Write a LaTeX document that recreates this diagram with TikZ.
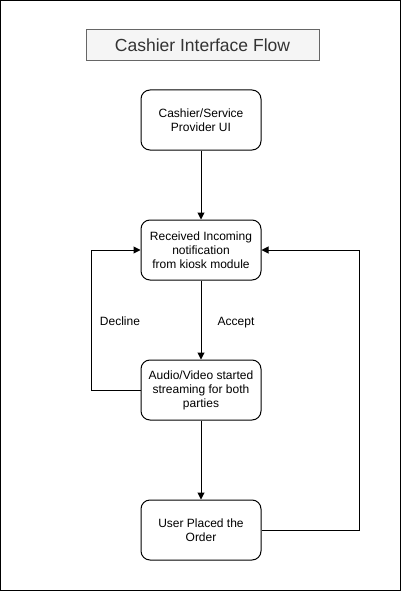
\documentclass[tikz,border=0pt]{standalone}
\usepackage{fontspec}
\setmainfont{Liberation Sans}
\usetikzlibrary{arrows.meta}
\definecolor{tfill}{HTML}{F5F5F5}
\definecolor{tdraw}{HTML}{666666}
\definecolor{ttext}{HTML}{333333}
\begin{document}
\begin{tikzpicture}[x=1pt,y=-1pt,
  box/.style={draw=black, line width=1pt, rounded corners=9pt, minimum width=120pt, minimum height=60pt, align=center, font=\fontsize{12}{14}\selectfont, inner sep=0pt},
  conn/.style={draw=black, line width=1pt, -{Triangle[length=7pt,width=7pt]}},
  lbl/.style={font=\fontsize{12}{14}\selectfont, anchor=base}]
\useasboundingbox (0,0) rectangle (401,591);
\draw[line width=1pt] (0.5,0.5) rectangle (400.5,590.5);
\node[draw=tdraw, fill=tfill, line width=1pt, minimum width=233pt, minimum height=31pt, inner sep=0pt, text=ttext, font=\fontsize{17.5}{19}\selectfont] (title) at (202.5,45.5) {Cashier Interface Flow};
\node[box] (ui) at (201,120) {Cashier/Service\\Provider UI};
\node[box] (recv) at (201,250) {Received Incoming\\notification\\from kiosk module};
\node[box] (av) at (201,390) {Audio/Video started\\streaming for both\\parties};
\node[box] (order) at (201,530) {User Placed the\\Order};
\coordinate (dl) at (91,390);
\coordinate (dr) at (359,530);
\draw[conn] (ui) -- (recv);
\draw[conn] (recv) -- (av);
\draw[conn] (av) -- (order);
\draw[conn] (av.west) -- (dl) |- (recv.west);
\draw[conn] (order.east) -- (dr) |- (recv.east);
\node[lbl] (decl) at (120,325.5) {Decline};
\node[lbl] (acc) at (236,325.5) {Accept};
\end{tikzpicture}
\end{document}
